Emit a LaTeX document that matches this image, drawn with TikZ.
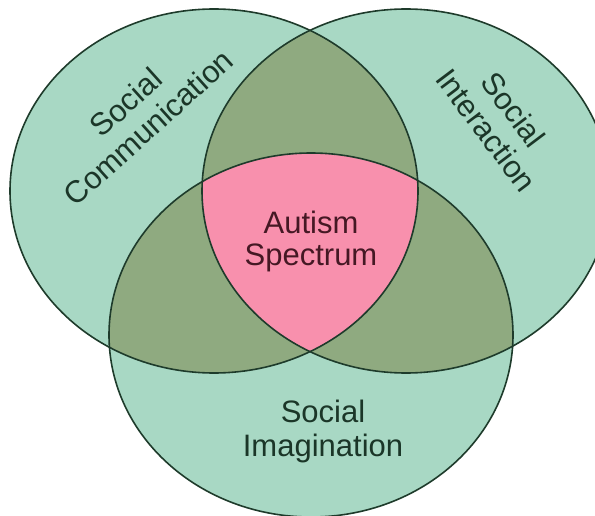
\documentclass[tikz,border=0pt]{standalone}
\usepackage{fontspec}
\setmainfont{Liberation Sans}

\definecolor{setfill}{HTML}{A8D8C4}
\definecolor{pairfill}{HTML}{8FAA80}
\definecolor{corefill}{HTML}{F890AD}
\definecolor{rimline}{HTML}{1E3B2B}
\definecolor{settext}{HTML}{1B3628}
\definecolor{coretext}{HTML}{451824}

\begin{document}
\begin{tikzpicture}[x=1pt, y=-1pt,
  rim/.style = {draw=rimline, line width=1.6pt},
  setlabel/.style = {align=center, text=settext, font=\fontsize{31}{34}\selectfont},
  corelabel/.style = {align=center, text=coretext, font=\fontsize{31}{32}\selectfont}]
\clip (0,0) rectangle (595,516);
\coordinate (cl) at (214,191);
\coordinate (cr) at (406,191);
\coordinate (cb) at (311,335);
\tikzset{rl/.style={x radius=204, y radius=182}, rb/.style={x radius=202, y radius=182}}
% the three sets
\fill[setfill] (cl) ellipse [rl];
\fill[setfill] (cr) ellipse [rl];
\fill[setfill] (cb) ellipse [rb];
% pairwise overlaps
\begin{scope}
\clip (cl) ellipse [rl];
\fill[pairfill] (cr) ellipse [rl];
\fill[pairfill] (cb) ellipse [rb];
\end{scope}
\begin{scope}
\clip (cr) ellipse [rl];
\fill[pairfill] (cb) ellipse [rb];
\end{scope}
% all three
\begin{scope}
\clip (cl) ellipse [rl];
\clip (cr) ellipse [rl];
\fill[corefill] (cb) ellipse [rb];
\end{scope}
\draw[rim] (cl) ellipse [rl];
\draw[rim] (cr) ellipse [rl];
\draw[rim] (cb) ellipse [rb];
% labels
\node[setlabel, rotate=42] (com) at (137,115) {Social\\Communication};
\node[setlabel, rotate=-53] (int) at (500,120) {Social\\Interaction};
\node[setlabel] (ima) at (323,431) {Social\\Imagination};
\node[corelabel] (aut) at (311,241) {Autism\\Spectrum};
\end{tikzpicture}
\end{document}
